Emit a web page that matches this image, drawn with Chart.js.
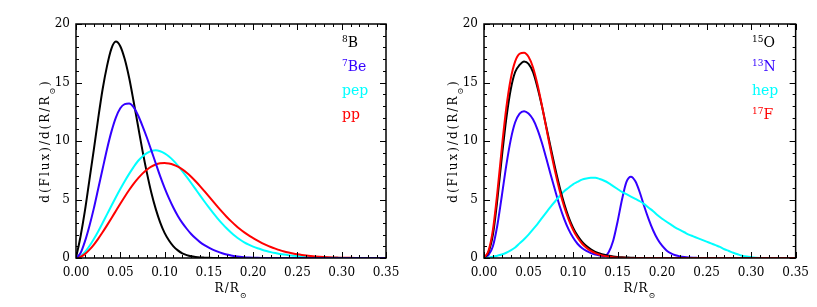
<!DOCTYPE html>
<html>
<head>
<meta charset="utf-8">
<script src="https://cdn.jsdelivr.net/npm/chart.js@4"></script>
<style>
  body { margin: 0; background: #fff; }
  .panel { position: absolute; top: 0; }
</style>
</head>
<body>
<div class="panel" style="left:0"><canvas id="leftChart" width="410" height="307"></canvas></div>
<div class="panel" style="left:410px"><canvas id="rightChart" width="407" height="307"></canvas></div>
<script>
// radius grid R/Rsun
var radius = [0.000, 0.005, 0.010, 0.015, 0.020, 0.025, 0.030, 0.035, 0.040, 0.045,
  0.050, 0.055, 0.060, 0.065, 0.070, 0.075, 0.080, 0.085, 0.090, 0.095,
  0.100, 0.105, 0.110, 0.115, 0.120, 0.125, 0.130, 0.135, 0.140, 0.145,
  0.150, 0.155, 0.160, 0.165, 0.170, 0.175, 0.180, 0.185, 0.190, 0.195,
  0.200, 0.205, 0.210, 0.215, 0.220, 0.225, 0.230, 0.235, 0.240, 0.245,
  0.250, 0.255, 0.260, 0.265, 0.270, 0.275, 0.280, 0.285, 0.290, 0.295,
  0.300, 0.305, 0.310, 0.315, 0.320, 0.325, 0.330, 0.335, 0.340, 0.345, 0.350];

// left panel
var fluxB8 = [0, 1.8, 4.0, 6.6, 9.2, 11.9, 14.4, 16.4, 17.9, 18.5,
  18.1, 17.0, 15.4, 13.4, 11.3, 9.2, 7.3, 5.6, 4.2, 3.05,
  2.15, 1.5, 1.0, 0.65, 0.4, 0.25, 0.15, 0.09, 0.05, 0.03,
  0.015, 0.005, 0, 0, 0, 0, 0, 0, 0, 0,
  0, 0, 0, 0, 0, 0, 0, 0, 0, 0,
  0, 0, 0, 0, 0, 0, 0, 0, 0, 0,
  0, 0, 0, 0, 0, 0, 0, 0, 0, 0, 0];
var fluxBe7 = [0, 0.4, 1.4, 2.7, 4.2, 5.9, 7.6, 9.3, 10.8, 12.0,
  12.8, 13.15, 13.2, 12.9, 12.2, 11.3, 10.3, 9.2, 8.1, 7.0,
  6.0, 5.1, 4.3, 3.6, 3.0, 2.5, 2.05, 1.68, 1.36, 1.1,
  0.88, 0.7, 0.54, 0.41, 0.3, 0.22, 0.15, 0.1, 0.065, 0.04,
  0.025, 0.015, 0.008, 0.004, 0, 0, 0, 0, 0, 0,
  0, 0, 0, 0, 0, 0, 0, 0, 0, 0,
  0, 0, 0, 0, 0, 0, 0, 0, 0, 0, 0];
var fluxPep = [0, 0.15, 0.5, 1.0, 1.6, 2.27, 2.99, 3.73, 4.47, 5.19,
  5.89, 6.56, 7.19, 7.77, 8.29, 8.68, 8.96, 9.14, 9.2, 9.12,
  8.94, 8.67, 8.32, 7.9, 7.43, 6.93, 6.41, 5.88, 5.35, 4.83,
  4.32, 3.83, 3.37, 2.94, 2.54, 2.18, 1.86, 1.58, 1.34, 1.14,
  0.97, 0.83, 0.71, 0.6, 0.5, 0.42, 0.35, 0.29, 0.24, 0.2,
  0.16, 0.13, 0.1, 0.08, 0.06, 0.045, 0.035, 0.025, 0.018, 0.012,
  0.008, 0.005, 0.003, 0, 0, 0, 0, 0, 0, 0, 0];
var fluxPP = [0, 0.09, 0.33, 0.69, 1.13, 1.64, 2.2, 2.79, 3.4, 4.02,
  4.64, 5.24, 5.81, 6.33, 6.8, 7.21, 7.55, 7.81, 7.99, 8.09,
  8.12, 8.07, 7.97, 7.8, 7.57, 7.28, 6.94, 6.56, 6.15, 5.71,
  5.26, 4.81, 4.37, 3.94, 3.53, 3.15, 2.8, 2.48, 2.19, 1.93,
  1.7, 1.48, 1.28, 1.1, 0.94, 0.8, 0.67, 0.56, 0.47, 0.39,
  0.32, 0.26, 0.21, 0.17, 0.135, 0.105, 0.08, 0.06, 0.045, 0.035,
  0.025, 0.018, 0.012, 0.008, 0.005, 0.003, 0, 0, 0, 0, 0];

// right panel
var fluxO15 = [0, 0.5, 2.0, 5.0, 8.6, 11.9, 14.4, 15.9, 16.5, 16.8,
  16.6, 15.9, 14.6, 13.0, 11.2, 9.4, 7.65, 6.05, 4.65, 3.5,
  2.6, 1.92, 1.4, 1.02, 0.74, 0.53, 0.38, 0.27, 0.19, 0.13,
  0.09, 0.06, 0.04, 0.02, 0.01, 0, 0, 0, 0, 0,
  0, 0, 0, 0, 0, 0, 0, 0, 0, 0,
  0, 0, 0, 0, 0, 0, 0, 0, 0, 0,
  0, 0, 0, 0, 0, 0, 0, 0, 0, 0, 0];
var fluxN13 = [0, 0.25, 1.0, 2.8, 5.3, 7.9, 10.1, 11.6, 12.35, 12.55,
  12.35, 11.85, 11.0, 9.85, 8.5, 7.1, 5.75, 4.45, 3.35, 2.45,
  1.75, 1.22, 0.86, 0.6, 0.42, 0.3, 0.22, 0.15, 0.5, 1.45,
  3.1, 5.0, 6.5, 6.95, 6.55, 5.6, 4.4, 3.3, 2.35, 1.6,
  1.05, 0.65, 0.4, 0.24, 0.14, 0.08, 0.04, 0.02, 0.01, 0,
  0, 0, 0, 0, 0, 0, 0, 0, 0, 0,
  0, 0, 0, 0, 0, 0, 0, 0, 0, 0, 0];
var fluxHep = [0, 0.03, 0.1, 0.2, 0.3, 0.45, 0.65, 0.9, 1.25, 1.6,
  2.0, 2.45, 2.9, 3.4, 3.9, 4.4, 4.85, 5.3, 5.7, 6.0,
  6.3, 6.5, 6.7, 6.8, 6.85, 6.85, 6.75, 6.6, 6.4, 6.15,
  5.9, 5.65, 5.45, 5.25, 5.05, 4.85, 4.6, 4.3, 4.0, 3.65,
  3.35, 3.1, 2.85, 2.6, 2.4, 2.2, 2.0, 1.85, 1.7, 1.55,
  1.4, 1.25, 1.1, 0.95, 0.75, 0.6, 0.45, 0.32, 0.2, 0.12,
  0.07, 0.03, 0.01, 0, 0, 0, 0, 0, 0, 0, 0];
var fluxF17 = [0, 0.6, 2.4, 5.6, 9.4, 12.8, 15.3, 16.8, 17.45, 17.55,
  17.2, 16.3, 14.85, 13.05, 11.1, 9.15, 7.35, 5.75, 4.4, 3.3,
  2.42, 1.75, 1.24, 0.87, 0.6, 0.41, 0.28, 0.18, 0.12, 0.07,
  0.04, 0.02, 0.01, 0, 0, 0, 0, 0, 0, 0,
  0, 0, 0, 0, 0, 0, 0, 0, 0, 0,
  0, 0, 0, 0, 0, 0, 0, 0, 0, 0,
  0, 0, 0, 0, 0, 0, 0, 0, 0, 0, 0];

// legend labels: [superscript, text]
var leftNames = [["8", "B"], ["7", "Be"], ["", "pep"], ["", "pp"]];
var rightNames = [["15", "O"], ["13", "N"], ["", "hep"], ["17", "F"]];

var xTicks = [0, 0.05, 0.10, 0.15, 0.20, 0.25, 0.30, 0.35];
var yTicks = [0, 5, 10, 15, 20];

var BLACK = "#000000", BLUE = "#3300ff", CYAN = "#00ffff", RED = "#ff0000";
var SERIF = "'DejaVu Serif', serif";

function pts(ys) {
  return radius.map(function (r, i) { return { x: r, y: ys[i] }; });
}

function line(ys, color, order) {
  return {
    data: pts(ys),
    borderColor: color,
    borderWidth: 2,
    pointRadius: 0,
    fill: false,
    cubicInterpolationMode: "monotone",
    order: order,
  };
}

// frame + inward ticks, axis titles and the coloured labels
var idlFrame = {
  id: "idlFrame",
  afterDraw: function (chart, args, opts) {
    var ctx = chart.ctx, a = chart.chartArea;
    var xs = chart.scales.x, ys = chart.scales.y;
    ctx.save();
    ctx.strokeStyle = "#000";
    ctx.lineWidth = 1.5;
    ctx.strokeRect(a.left, a.top, a.right - a.left, a.bottom - a.top);
    ctx.lineWidth = 1;
    ctx.beginPath();
    for (var i = 0; i <= 35; i++) {
      var px = Math.round(xs.getPixelForValue(i * 0.01)) + 0.5;
      var len = i % 5 === 0 ? 6 : 3;
      ctx.moveTo(px, a.bottom); ctx.lineTo(px, a.bottom - len);
      ctx.moveTo(px, a.top); ctx.lineTo(px, a.top + len);
    }
    for (var j = 0; j <= 20; j++) {
      var py = Math.round(ys.getPixelForValue(j)) + 0.5;
      var ylen = j % 5 === 0 ? 6 : 3;
      ctx.moveTo(a.left, py); ctx.lineTo(a.left + ylen, py);
      ctx.moveTo(a.right, py); ctx.lineTo(a.right - ylen, py);
    }
    ctx.stroke();

    ctx.fillStyle = "#000";
    // x title R/R_sun
    ctx.font = "12px " + SERIF;
    ctx.letterSpacing = "1px";
    ctx.textBaseline = "alphabetic";
    var main = "R/R", mw = ctx.measureText(main).width;
    ctx.font = "8px " + SERIF;
    var sw = ctx.measureText("\u2299").width;
    var cx = (a.left + a.right) / 2 - (mw + sw) / 2;
    ctx.font = "12px " + SERIF;
    ctx.textAlign = "left";
    ctx.fillText(main, cx, 292);
    ctx.font = "8px " + SERIF;
    ctx.fillText("\u2299", cx + mw, 298);

    // y title
    ctx.save();
    ctx.translate(opts.yTitleX, (a.top + a.bottom) / 2);
    ctx.rotate(-Math.PI / 2);
    ctx.font = "12px " + SERIF;
    ctx.letterSpacing = "2px";
    var t1 = "d(Flux)/d(R/R", t2 = ")";
    var w1 = ctx.measureText(t1).width, w2 = ctx.measureText(t2).width;
    ctx.font = "8px " + SERIF;
    var ws = ctx.measureText("\u2299").width;
    var sx = -(w1 + ws + w2) / 2;
    ctx.font = "12px " + SERIF;
    ctx.fillText(t1, sx, 4);
    ctx.font = "8px " + SERIF;
    ctx.fillText("\u2299", sx + w1, 10);
    ctx.font = "12px " + SERIF;
    ctx.fillText(t2, sx + w1 + ws, 4);
    ctx.restore();

    // labels
    ctx.letterSpacing = "0px";
    var names = opts.names;
    for (var k = 0; k < names.length; k++) {
      var ds = chart.data.datasets[k];
      var by = 47 + k * 24, bx = opts.labelX;
      ctx.fillStyle = ds.borderColor;
      ctx.font = "9px " + SERIF;
      ctx.fillText(names[k][0], bx, by - 5);
      var supW = names[k][0] ? ctx.measureText(names[k][0]).width : 0;
      ctx.font = "14px " + SERIF;
      ctx.fillText(names[k][1], bx + supW, by);
    }
    ctx.restore();
  },
};

function makeChart(id, datasets, names, yWidth, rightPad, labelX, yTitleX) {
  var ctx = document.getElementById(id).getContext("2d");
  return new Chart(ctx, {
    type: "line",
    data: { datasets: datasets },
    options: {
      responsive: false,
      animation: false,
      layout: { padding: { top: 24, right: rightPad, left: 0, bottom: 0 } },
      plugins: {
        legend: { display: false },
        tooltip: { enabled: false },
        idlFrame: { names: names, labelX: labelX, yTitleX: yTitleX },
      },
      scales: {
        x: {
          type: "linear",
          min: 0,
          max: 0.35,
          afterBuildTicks: function (s) { s.ticks = xTicks.map(function (v) { return { value: v }; }); },
          afterFit: function (s) { s.height = 49; },
          ticks: {
            callback: function (v) { return Number(v).toFixed(2); },
            font: { family: SERIF, size: 12 },
            color: "#000",
            maxRotation: 0,
            autoSkip: false,
            padding: 8,
          },
          grid: { display: false, drawTicks: false },
          border: { display: false },
        },
        y: {
          min: 0,
          max: 20,
          afterBuildTicks: function (s) { s.ticks = yTicks.map(function (v) { return { value: v }; }); },
          afterFit: function (s) { s.width = yWidth; },
          ticks: {
            font: { family: SERIF, size: 12 },
            color: "#000",
            padding: 6,
          },
          grid: { display: false, drawTicks: false },
          border: { display: false },
        },
      },
    },
    plugins: [idlFrame],
  });
}

makeChart("leftChart", [
  line(fluxB8, BLACK, 3),
  line(fluxBe7, BLUE, 0),
  line(fluxPep, CYAN, 2),
  line(fluxPP, RED, 1),
], leftNames, 76, 24, 342, 45);

makeChart("rightChart", [
  line(fluxO15, BLACK, 1),
  line(fluxN13, BLUE, 3),
  line(fluxHep, CYAN, 2),
  line(fluxF17, RED, 0),
], rightNames, 74, 21, 342, 43);
</script>
</body>
</html>
